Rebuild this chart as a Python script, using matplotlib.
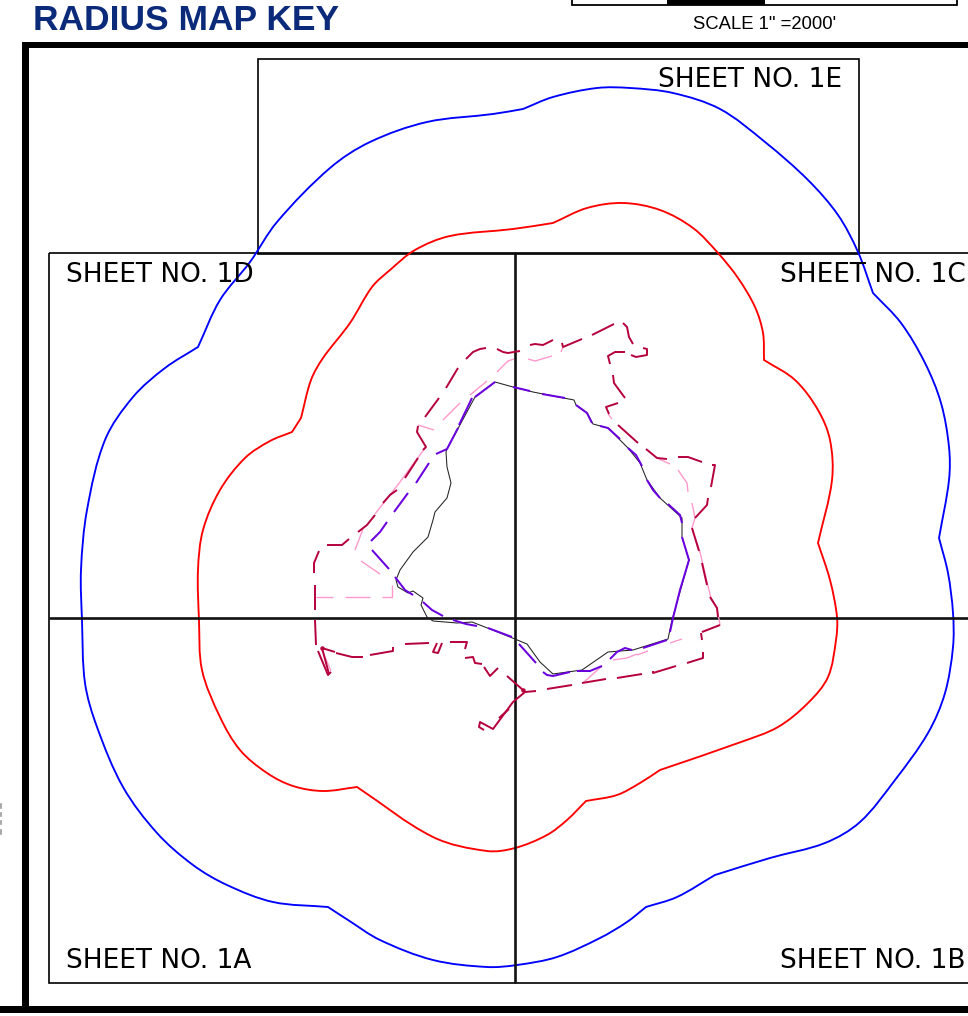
import math
import matplotlib
matplotlib.use("Agg")
import matplotlib.pyplot as plt
from matplotlib.patches import Rectangle, PathPatch
from matplotlib.path import Path

# ---- data: map outlines, all in reference picture units ----
blue_radius = [(630,88),(673,93),(720,109),(765,142),(808,180),(838,215),(858,252),(873,293),(901,323),(925,363),(941,403),(949,447),(949,480),(939,538),(948,573),(953,613),(953,647),(945,693),(928,733),(895,780),(860,822),(825,843),(770,858),(715,875),(677,897),(646,907),(627,922),(600,938),(557,957),(517,965),(487,967),(433,960),(380,940),(348,920),(328,907),(273,902),(227,885),(193,865),(157,833),(123,787),(97,727),(85,683),(82,620),(81,570),(87,510),(105,440),(133,397),(165,368),(198,347),(220,300),(250,262),(277,222),(330,168),(370,142),(427,122),(493,114),(523,109),(553,97),(597,88),(630,88)]
red_radius = [(623,203),(660,210),(693,228),(718,253),(738,278),(755,307),(763,333),(764,360),(795,380),(818,410),(830,440),(832,480),(818,543),(830,580),(837,617),(836,640),(828,677),(808,703),(778,727),(741,742),(660,770),(640,783),(617,795),(586,801),(567,820),(547,835),(515,848),(487,851),(433,837),(357,787),(323,791),(293,786),(267,773),(240,750),(220,717),(202,670),(199,620),(198,570),(203,530),(220,490),(245,458),(270,441),(292,432),(301,418),(311,380),(323,358),(350,323),(372,287),(390,270),(415,250),(450,236),(513,229),(553,223),(587,208),(623,203)]
blue_corners = [(198,347),(523,109),(873,293),(939,538),(646,907),(715,875),(328,907)]
red_corners = [(292,432),(301,418),(553,223),(764,360),(818,543),(357,787),(586,801),(660,770)]
black_route = [(447,449),(446,452),(447,467),(451,483),(447,498),(435,512),(433,520),(428,537),(413,552),(400,570),(396,580),(398,587),(408,593),(413,591),(423,598),(421,605),(427,617),(433,621),(457,623),(472,622),(490,629),(510,637),(527,644),(540,662),(553,674),(582,670),(608,652),(633,650),(668,639),(672,620),(689,560),(682,537),(682,518),(660,498),(647,480),(640,463),(628,448),(608,428),(593,424),(587,413),(576,405),(574,400),(533,392),(513,387),(495,382),(475,397),(447,449)]
purple_route = [
 [(436,454),(447,449),(458,428)],[(459,425),(472,398)],[(475,397),(495,382)],[(513,387),(530,391)],[(542,394),(565,398)],
 [(576,405),(587,413),(592,423)],[(600,426),(608,428),(620,439)],[(628,448),(636,455),(642,466)],[(647,480),(653,490),(660,498)],
 [(668,504),(680,515),(682,523)],[(682,537),(689,560),(680,590),(673,618),(670,632)],[(667,640),(643,648)],
 [(610,659),(617,652),(625,648),(632,650)],[(602,666),(590,671),(577,671)],[(570,672),(553,676),(547,675),(543,672)],[(536,663),(519,644)],
 [(512,637),(488,628)],[(477,626),(466,624),(453,620)],[(443,616),(432,610),(423,602)],[(413,595),(405,590),(395,577)],
 [(389,569),(372,550)],[(371,541),(380,532),(387,522)],[(394,512),(408,493)],[(416,483),(429,463)]]
pink_route = [
 [(316,597),(333,597)],[(345,597),(370,597)],[(382,597),(392,597),(392,585)],[(380,574),(361,561)],[(355,550),(363,529)],
 [(375,514),(400,482),(425,448)],[(418,425),(434,430)],[(443,420),(460,403)],[(470,395),(487,381)],[(497,372),(508,361),(514,359)],
 [(528,359),(535,361),(552,356)],[(561,352),(563,347)],[(608,414),(612,419)],[(657,458),(670,464)],[(678,470),(687,483),(688,492)],
 [(692,503),(695,518),(692,528),(700,552),(707,582),(711,598),(717,608),(720,625),(702,632)],[(682,639),(670,643)],[(648,651),(637,655)],
 [(637,654),(627,658),(613,660)],[(602,666),(583,683)],[(322,650),(331,671)]]
crimson_route = [
 [(316,645),(315,620)],[(315,610),(315,585)],[(314,573),(314,563),(319,551)],[(327,545),(342,545),(349,539)],[(358,532),(367,525),(375,515)],
 [(383,503),(390,495),(397,490)],[(405,478),(418,458)],[(423,450),(426,447),(417,432),(418,426)],[(425,417),(439,398)],[(446,388),(458,368)],
 [(466,359),(473,352),(480,349),(486,348)],[(497,349),(503,352),(508,353),(520,351)],[(530,345),(535,344),(543,345),(553,340)],
 [(562,343),(563,347),(582,339)],[(592,335),(614,324)],[(623,323),(627,327),(629,337),(633,344)],[(631,355),(636,357),(647,355),(647,349),(643,348)],
 [(625,352),(615,352),(608,356),(610,364)],[(613,375),(614,383),(625,398)],[(618,403),(606,407),(609,414)],[(618,425),(638,443)],
 [(646,449),(657,458),(667,459)],[(678,457),(688,457),(702,462)],[(712,465),(715,465),(711,487)],[(708,498),(707,505),(695,518)],
 [(692,528),(699,551)],[(702,563),(707,585)],[(710,597),(717,608),(718,617)],[(720,625),(702,632)],[(701,633),(702,640)],[(703,652),(703,658),(687,663)],
 [(676,666),(653,673),(653,671)],[(642,674),(617,678)],[(606,679),(582,683)],[(572,685),(547,689)],[(536,691),(525,692),(513,702),(493,729),(480,722),(479,727),(484,730)],
 [(509,709),(499,718)],[(507,676),(523,690)],[(318,651),(328,675),(331,672)],[(322,648),(329,674)],[(322,648),(335,652)],[(336,653),(352,657),(363,657)],
 [(370,655),(393,651),(393,647)],[(405,644),(429,643)],[(437,643),(433,652),(438,653),(442,643)],[(450,642),(467,642),(465,649)],
 [(465,658),(473,657),(475,663),(482,664)],[(484,667),(490,676),(498,668)]]
crimson_nodes = [(322,648),(523,690)]
sheet_labels = ["SHEET NO. 1E","SHEET NO. 1D","SHEET NO. 1C","SHEET NO. 1A","SHEET NO. 1B"]
sheet_anchor = [(658,87),(66,282),(780,282),(66,968),(780,968)]
title = "RADIUS MAP KEY"
scale_note = "SCALE 1\" =2000'"
edge_marks = [(804,808),(813,816),(821,824),(830,834)]

fig = plt.figure(figsize=(9.68,10.16),dpi=100,facecolor="white")
ax = fig.add_axes([0,0,1,1])
ax.set_xlim(0,968); ax.set_ylim(1016,0); ax.axis("off")

def pline(pts,**kw):
    ax.plot([p[0] for p in pts],[p[1] for p in pts],solid_capstyle="butt",solid_joinstyle="round",**kw)

def unit(a,b):
    d=math.hypot(b[0]-a[0],b[1]-a[1]) or 1.0
    return ((b[0]-a[0])/d,(b[1]-a[1])/d)

def smooth_outline(pts,corners,**kw):
    # curved path through the read points, breaking the tangent at real corners
    n=len(pts); verts=[pts[0]]; codes=[Path.MOVETO]; cs=set(corners)
    for i in range(n-1):
        p1,p2=pts[i],pts[i+1]
        p0=p1 if p1 in cs else pts[(i-1)%(n-1)]
        p3=p2 if p2 in cs else pts[(i+2)%(n-1)]
        L=math.hypot(p2[0]-p1[0],p2[1]-p1[1])/3
        t1=unit(p0,p2); t2=unit(p1,p3)
        verts+= [(p1[0]+t1[0]*L,p1[1]+t1[1]*L),(p2[0]-t2[0]*L,p2[1]-t2[1]*L),p2]; codes+=[Path.CURVE4]*3
    ax.add_patch(PathPatch(Path(verts,codes),fc="none",**kw))

# frame
for r in [(22,42,7,971),(22,42,946,6),(0,1006,968,7)]:
    ax.add_patch(Rectangle((r[0],r[1]),r[2],r[3],fc="black",ec="none",zorder=5))
# scale bar
ax.add_patch(Rectangle((572,-5),385,10,fc="white",ec="black",lw=1.3))
ax.add_patch(Rectangle((667,-5),98,10,fc="black",ec="none"))
# sheets
ax.add_patch(Rectangle((257.5,58.5),601,195,fc="none",ec="black",lw=1.2))
ax.add_patch(Rectangle((49,253),960,730,fc="none",ec="black",lw=1.2))
pline([(514.5,253),(514.5,983)],color="#111111",lw=1.9)
pline([(49,618),(968,618)],color="#111111",lw=1.9)

smooth_outline(blue_radius,blue_corners,ec="#0000ff",lw=1.35,joinstyle="miter")
smooth_outline(red_radius,red_corners,ec="#ff0000",lw=1.35,joinstyle="miter")
pline(black_route,color="#222222",lw=0.75)
for s in pink_route: pline(s,color="#ff99cc",lw=1.0)
for s in purple_route: pline(s,color="#6a00e0",lw=1.45)
for s in crimson_route: pline(s,color="#b5003c",lw=1.4)
ax.plot([p[0] for p in crimson_nodes],[p[1] for p in crimson_nodes],ls="none",marker="o",ms=3.2,mfc="#b5003c",mec="none")

for t,(x,y) in zip(sheet_labels,sheet_anchor):
    ax.text(x,y,t,fontsize=19,family="DejaVu Sans",va="baseline",ha="left",color="black",clip_on=True)
ax.text(33,30,title,fontsize=25.5,family="Liberation Sans",weight="bold",color="#0b2a7a",va="baseline",ha="left")
ax.text(693,29,scale_note,fontsize=13.3,family="Liberation Sans",color="black",va="baseline",ha="left")
for y0,y1 in edge_marks:
    ax.plot([1,1],[y0,y1],color="#999999",lw=1.2)
fig.savefig("out.png",dpi=100)
